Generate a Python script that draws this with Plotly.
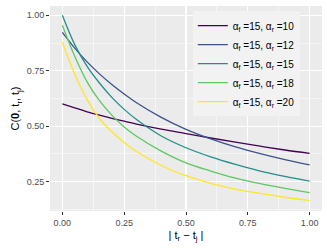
import plotly.graph_objects as go

x_vals = [0, 0.05, 0.1, 0.15, 0.2, 0.25, 0.3, 0.4, 0.5, 0.6, 0.7, 0.8, 0.9, 1.0]
c_r10 = [0.601, 0.583, 0.565, 0.55, 0.536, 0.523, 0.510, 0.487, 0.467, 0.447, 0.428, 0.41, 0.393, 0.378]
c_r12 = [0.923, 0.852, 0.790, 0.736, 0.688, 0.645, 0.606, 0.540, 0.486, 0.443, 0.407, 0.377, 0.350, 0.326]
c_r15 = [1.0, 0.868, 0.77, 0.695, 0.63, 0.576, 0.530, 0.456, 0.403, 0.362, 0.328, 0.298, 0.274, 0.253]
c_r18 = [0.955, 0.815, 0.70, 0.615, 0.55, 0.497, 0.455, 0.388, 0.335, 0.298, 0.266, 0.241, 0.220, 0.201]
c_r20 = [0.879, 0.735, 0.62, 0.535, 0.475, 0.427, 0.386, 0.323, 0.277, 0.243, 0.217, 0.197, 0.180, 0.165]

labels = ["α<sub>f</sub> =15, α<sub>r</sub> =10", "α<sub>f</sub> =15, α<sub>r</sub> =12",
          "α<sub>f</sub> =15, α<sub>r</sub> =15", "α<sub>f</sub> =15, α<sub>r</sub> =18",
          "α<sub>f</sub> =15, α<sub>r</sub> =20"]
colors = ["#440154", "#3B528B", "#21908C", "#5DC863", "#FDE725"]
series = [c_r10, c_r12, c_r15, c_r18, c_r20]

fig = go.Figure()
for lab, col, ys in zip(labels, colors, series):
    fig.add_trace(go.Scatter(x=x_vals, y=ys, mode="lines", name=lab,
                             line=dict(color=col, width=1.3, shape="spline", smoothing=1.0)))

FONT = "Liberation Sans, Arial"
axis_common = dict(showgrid=True, gridcolor="white", gridwidth=1.1,
                   zeroline=False, showline=False, ticks="outside", ticklen=3,
                   tickcolor="#333333", tickwidth=1,
                   tickfont=dict(family=FONT, size=9, color="#4D4D4D"))

fig.update_xaxes(range=[-0.05, 1.05], tickvals=[0, 0.25, 0.5, 0.75, 1.0],
                 ticktext=["0.00", "0.25", "0.50", "0.75", "1.00"],
                 title=dict(text="| t<sub>r</sub> − t<sub>j</sub> |", standoff=4,
                            font=dict(family=FONT, size=11, color="black")),
                 minor=dict(tickvals=[0.125, 0.375, 0.625, 0.875], showgrid=True,
                            gridcolor="white", gridwidth=0.5, ticks=""),
                 **axis_common)
fig.update_yaxes(range=[0.118, 1.042], tickvals=[0.25, 0.5, 0.75, 1.0],
                 ticktext=["0.25", "0.50", "0.75", "1.00"],
                 title=dict(text="C(<b>0</b>, t<sub>r</sub>, t<sub>j</sub>)", standoff=4,
                            font=dict(family=FONT, size=11, color="black")),
                 minor=dict(tickvals=[0.125, 0.375, 0.625, 0.875], showgrid=True,
                            gridcolor="white", gridwidth=0.5, ticks=""),
                 **axis_common)

fig.update_layout(
    width=327, height=251,
    margin=dict(l=50, r=5, t=6, b=40),
    paper_bgcolor="white", plot_bgcolor="#EBEBEB",
    showlegend=True, hovermode=False,
    legend=dict(x=0.525, y=0.975, xanchor="left", yanchor="top",
                bgcolor="#F2F2F2", borderwidth=0,
                font=dict(family=FONT, size=10, color="black"),
                itemwidth=30, tracegroupgap=0),
)

fig.write_html("out.html", config={"displayModeBar": False, "staticPlot": True},
               post_script="document.body.style.margin='0';document.body.style.overflow='hidden';")
